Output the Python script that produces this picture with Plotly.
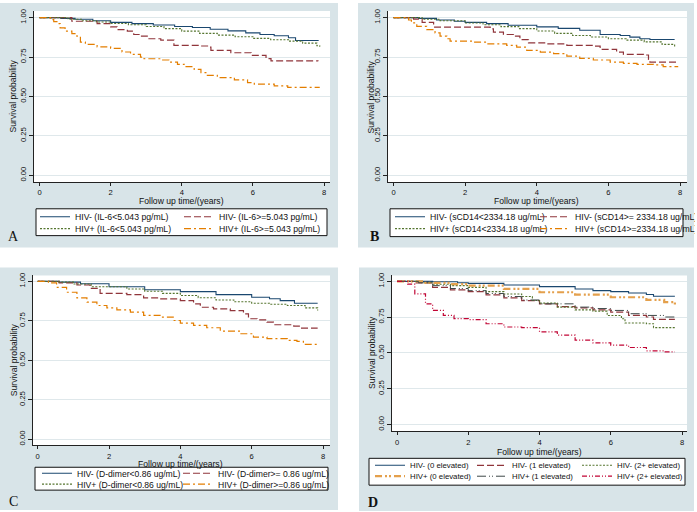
import plotly.graph_objects as go

W, H = 697, 512
FONT = "Liberation Sans, Arial, sans-serif"
SERIF = "Liberation Serif, Times New Roman, serif"

# ---------------- data (time in years, survival probability) ----------------
XTICKS = [0, 2, 4, 6, 8]
YTICKS = [0, 0.25, 0.5, 0.75, 1.0]
YTICKTEXT = ["0.00", "0.25", "0.50", "0.75", "1.00"]
XLABEL = "Follow up time/(years)"
YLABEL = "Survival probability"

# Panel A : IL-6
A_names = ["HIV- (IL-6&lt;5.043 pg/mL)", "HIV- (IL-6&gt;=5.043 pg/mL)",
           "HIV+ (IL-6&lt;5.043 pg/mL)", "HIV+ (IL-6&gt;=5.043 pg/mL)"]
A_neg_lo_t = [0, 0.6, 1.0, 1.5, 2.0, 2.6, 3.2, 3.8, 4.3, 4.8, 5.3, 5.8, 6.2, 6.6, 7.0, 7.2, 7.85]
A_neg_lo_s = [1.0, 0.995, 0.99, 0.98, 0.97, 0.962, 0.953, 0.944, 0.937, 0.926, 0.916, 0.903, 0.893, 0.885, 0.872, 0.855, 0.855]
A_neg_hi_t = [0, 0.91, 1.62, 2.0, 2.18, 2.47, 2.65, 2.84, 3.03, 3.41, 3.78, 4.54, 4.77, 4.82, 5.38, 5.95, 6.37, 6.51, 7.83]
A_neg_hi_s = [1.0, 0.977, 0.962, 0.941, 0.924, 0.914, 0.893, 0.882, 0.866, 0.857, 0.824, 0.82, 0.813, 0.792, 0.777, 0.761, 0.74, 0.725, 0.723]
A_pos_lo_t = [0, 0.8, 1.2, 1.6, 2.0, 2.5, 3.0, 3.5, 4.0, 4.5, 5.0, 5.5, 6.0, 6.5, 7.0, 7.4, 7.8, 7.88]
A_pos_lo_s = [1.0, 0.99, 0.98, 0.972, 0.963, 0.955, 0.944, 0.93, 0.914, 0.9, 0.889, 0.879, 0.868, 0.86, 0.851, 0.838, 0.822, 0.815]
A_pos_hi_t = [0, 0.3, 0.4, 0.49, 0.58, 0.72, 0.91, 1.05, 1.15, 1.29, 1.62, 2.0, 2.32, 2.56, 2.84, 2.94, 3.41,
              3.64, 3.88, 4.07, 4.35, 4.54, 4.72, 5.0, 5.48, 5.85, 6.04, 6.6, 6.98, 7.88]
A_pos_hi_s = [1.0, 0.987, 0.975, 0.962, 0.935, 0.914, 0.899, 0.882, 0.845, 0.83, 0.815, 0.805, 0.782, 0.767, 0.75,
              0.739, 0.731, 0.718, 0.704, 0.689, 0.672, 0.651, 0.634, 0.62, 0.605, 0.588, 0.578, 0.567, 0.557, 0.557]

# Panel B : sCD14
B_names = ["HIV- (sCD14&lt;2334.18 ug/mL)", "HIV- (sCD14&gt;= 2334.18 ug/mL)",
           "HIV+ (sCD14&lt;2334.18 ug/mL)", "HIV+ (sCD14&gt;=2334.18 ug/mL)"]
B_neg_lo_t = [0, 0.7, 1.2, 1.7, 2.0, 2.6, 3.2, 4.0, 4.6, 5.2, 5.77, 6.33, 6.6, 6.88, 7.16, 7.85]
B_neg_lo_s = [1.0, 0.995, 0.985, 0.977, 0.97, 0.962, 0.952, 0.941, 0.932, 0.92, 0.893, 0.887, 0.876, 0.866, 0.861, 0.861]
B_neg_hi_t = [0, 0.56, 0.8, 1.12, 2.7, 2.79, 3.07, 3.35, 3.53, 3.77, 4.28, 4.84, 5.58, 5.77, 6.23, 6.42, 6.98, 7.12, 7.16, 7.9]
B_neg_hi_s = [1.0, 0.99, 0.97, 0.94, 0.929, 0.908, 0.893, 0.882, 0.861, 0.84, 0.834, 0.824, 0.819, 0.798, 0.781, 0.767, 0.763, 0.735, 0.718, 0.718]
B_pos_lo_t = [0, 0.8, 1.3, 2.0, 2.5, 3.0, 3.5, 4.0, 4.5, 5.0, 5.5, 6.0, 6.5, 7.0, 7.5, 7.85]
B_pos_lo_s = [1.0, 0.99, 0.98, 0.966, 0.955, 0.943, 0.93, 0.915, 0.9, 0.887, 0.877, 0.866, 0.857, 0.846, 0.83, 0.808]
B_pos_hi_t = [0, 0.42, 0.5, 0.65, 0.93, 1.16, 1.3, 1.49, 1.58, 2.23, 2.6, 3.16, 3.44, 3.72, 4.1, 4.47, 4.84,
              5.2, 5.58, 6.05, 6.42, 6.8, 7.26, 7.53, 7.95]
B_pos_hi_s = [1.0, 0.985, 0.966, 0.945, 0.924, 0.903, 0.882, 0.866, 0.851, 0.845, 0.834, 0.824, 0.813, 0.792,
              0.781, 0.771, 0.756, 0.742, 0.731, 0.718, 0.71, 0.704, 0.7, 0.689, 0.689]

# Panel C : D-dimer
C_names = ["HIV- (D-dimer&lt;0.86 ug/mL)", "HIV- (D-dimer&gt;= 0.86 ug/mL)",
           "HIV+ (D-dimer&lt;0.86 ug/mL)", "HIV+ (D-dimer&gt;=0.86 ug/mL)"]
C_neg_lo_t = [0, 0.6, 1.2, 2.0, 3.0, 4.0, 5.0, 6.0, 6.5, 6.8, 7.2, 7.85]
C_neg_lo_s = [1.0, 0.995, 0.985, 0.966, 0.947, 0.935, 0.916, 0.899, 0.89, 0.878, 0.861, 0.861]
C_neg_hi_t = [0, 0.6, 1.1, 1.47, 1.75, 2.5, 2.97, 3.43, 4.0, 4.37, 4.56, 4.93, 5.4, 5.77, 5.91, 6.15, 6.43, 6.61, 7.18, 7.36, 7.85]
C_neg_hi_s = [1.0, 0.99, 0.977, 0.956, 0.924, 0.916, 0.895, 0.889, 0.878, 0.857, 0.836, 0.826, 0.815, 0.794, 0.763, 0.756, 0.742, 0.725, 0.716, 0.704, 0.704]
C_pos_lo_t = [0, 0.6, 1.0, 1.5, 2.5, 3.0, 3.5, 4.0, 4.5, 5.0, 5.5, 6.0, 6.5, 7.0, 7.5, 7.85]
C_pos_lo_s = [1.0, 0.995, 0.983, 0.966, 0.952, 0.937, 0.924, 0.91, 0.896, 0.882, 0.871, 0.861, 0.855, 0.847, 0.832, 0.815]
C_pos_hi_t = [0, 0.3, 0.53, 0.81, 1.1, 1.38, 1.66, 1.94, 2.22, 2.6, 2.97, 3.43, 3.8, 4.0, 4.37, 4.74, 5.12,
              5.68, 6.05, 6.43, 7.0, 7.27, 7.45, 7.85]
C_pos_hi_s = [1.0, 0.99, 0.962, 0.931, 0.895, 0.868, 0.847, 0.832, 0.819, 0.805, 0.784, 0.773, 0.752, 0.735,
              0.721, 0.706, 0.685, 0.668, 0.647, 0.637, 0.626, 0.62, 0.601, 0.601]

# Panel D : number of elevated biomarkers
D_names = ["HIV- (0 elevated)", "HIV- (1 elevated)", "HIV- (2+ elevated)",
           "HIV+ (0 elevated)", "HIV+ (1 elevated)", "HIV+ (2+ elevated)"]
D_neg0_t = [0, 1.0, 1.7, 2.0, 3.0, 4.0, 5.0, 5.5, 6.0, 6.5, 7.0, 7.2, 7.8]
D_neg0_s = [1.0, 0.997, 0.99, 0.986, 0.975, 0.963, 0.947, 0.935, 0.928, 0.919, 0.908, 0.896, 0.896]
D_neg1_t = [0, 0.5, 1.0, 1.5, 2.0, 2.5, 3.0, 3.5, 4.0, 4.5, 5.0, 5.5, 6.0, 6.5, 7.0, 7.2, 7.8]
D_neg1_s = [1.0, 0.99, 0.958, 0.94, 0.928, 0.905, 0.885, 0.866, 0.843, 0.824, 0.815, 0.801, 0.785, 0.762, 0.751, 0.734, 0.734]
D_neg2_t = [0, 0.7, 1.0, 1.5, 2.0, 2.5, 3.0, 3.5, 3.8, 4.0, 4.5, 5.0, 5.5, 5.9, 6.3, 6.4, 7.0, 7.2, 7.8]
D_neg2_s = [1.0, 0.99, 0.98, 0.97, 0.958, 0.928, 0.912, 0.894, 0.866, 0.848, 0.82, 0.801, 0.792, 0.762, 0.739, 0.709, 0.704, 0.677, 0.677]
D_pos0_t = [0, 0.8, 1.5, 2.0, 3.0, 4.0, 5.0, 6.0, 7.0, 7.5, 7.8]
D_pos0_s = [1.0, 0.99, 0.98, 0.97, 0.947, 0.924, 0.908, 0.889, 0.871, 0.855, 0.838]
D_pos1_t = [0, 0.6, 1.0, 1.5, 2.0, 2.5, 3.0, 3.5, 4.0, 5.0, 5.5, 6.0, 6.5, 7.0, 7.5, 7.8]
D_pos1_s = [1.0, 0.99, 0.97, 0.95, 0.935, 0.915, 0.894, 0.87, 0.843, 0.82, 0.81, 0.797, 0.774, 0.762, 0.751, 0.745]
D_pos2_t = [0, 0.3, 0.5, 0.8, 1.0, 1.3, 1.6, 2.0, 2.5, 3.0, 3.5, 4.0, 4.5, 5.0, 5.5, 6.0, 6.5, 7.0, 7.5, 7.8]
D_pos2_s = [1.0, 0.98, 0.912, 0.843, 0.797, 0.762, 0.739, 0.732, 0.704, 0.681, 0.677, 0.647, 0.624, 0.589,
            0.57, 0.554, 0.538, 0.515, 0.508, 0.508]

# ---------------- styles ----------------
NAVY, MAROON, GREEN, ORANGE = "#1a476f", "#90353b", "#55752f", "#e37e00"
SAND, SLATE, CRAN = "#e4a04c", "#3d4848", "#c10534"
BG = "#d8e4e8"
GRID = "#dfe8eb"

S_SOLID = dict(color=NAVY, width=1.1, dash="solid")
S_DOT = dict(color=GREEN, width=1.1, dash="2px,1.5px")
S_DASH = dict(color=MAROON, width=1.2, dash="7px,3px")
S_DASHDOT = dict(color=ORANGE, width=1.2, dash="7px,3px,2px,3px")
S_SAND = dict(color=SAND, width=2.2, dash="7px,3px,2px,2px,2px,3px")
S_SLATE = dict(color=SLATE, width=1.0, dash="9px,3px,1px,2px,1px,3px")
S_CRAN = dict(color=CRAN, width=1.2, dash="5px,2px,1px,2px,1px,2px")

# panel geometry in pixels
panels = [
    dict(key="A", sfx="", dom_x=(34, 330), dom_y=(8, 180), x0=39.5, x8=324, y1=14.7, y0=173.3,
         bg=(0, 0, 338, 246), letter=(14, 235, False), xlab_y=199, ylab_x=13,
         legbox=(36, 207, 327, 234), rows=[215, 227], leg_x=35, colw=[99, 110], fs=8.7),
    dict(key="B", sfx="2", dom_x=(388, 687), dom_y=(8, 180), x0=393.5, x8=680, y1=14.7, y0=173.3,
         bg=(358, 0, 694, 246), letter=(374, 235, True), xlab_y=199, ylab_x=371,
         legbox=(390, 207, 683, 235), rows=[215, 227], leg_x=390, colw=[100, 115], fs=8.7),
    dict(key="C", sfx="3", dom_x=(33, 330), dom_y=(274, 445), x0=37.7, x8=323, y1=280, y0=438.7,
         bg=(0, 266, 338, 510), letter=(14, 501, False), xlab_y=463.5, ylab_x=14,
         legbox=(35, 467, 328, 490), rows=[473, 484], leg_x=37, colw=[96, 110], fs=8.6),
    dict(key="D", sfx="4", dom_x=(392, 687), dom_y=(274, 431), x0=397, x8=682, y1=280, y0=424,
         bg=(359, 266, 694, 511), letter=(373, 502, True), xlab_y=451.5, ylab_x=372,
         legbox=(369, 458, 685, 485), rows=[465, 476], leg_x=370, colw=[57, 60, 65], fs=7.8),
]

series = {
    "A": [[(A_neg_lo_t, A_neg_lo_s, A_names[0], S_SOLID), (A_neg_hi_t, A_neg_hi_s, A_names[1], S_DASH)],
          [(A_pos_lo_t, A_pos_lo_s, A_names[2], S_DOT), (A_pos_hi_t, A_pos_hi_s, A_names[3], S_DASHDOT)]],
    "B": [[(B_neg_lo_t, B_neg_lo_s, B_names[0], S_SOLID), (B_neg_hi_t, B_neg_hi_s, B_names[1], S_DASH)],
          [(B_pos_lo_t, B_pos_lo_s, B_names[2], S_DOT), (B_pos_hi_t, B_pos_hi_s, B_names[3], S_DASHDOT)]],
    "C": [[(C_neg_lo_t, C_neg_lo_s, C_names[0], S_SOLID), (C_neg_hi_t, C_neg_hi_s, C_names[1], S_DASH)],
          [(C_pos_lo_t, C_pos_lo_s, C_names[2], S_DOT), (C_pos_hi_t, C_pos_hi_s, C_names[3], S_DASHDOT)]],
    "D": [[(D_neg0_t, D_neg0_s, D_names[0], S_SOLID), (D_neg1_t, D_neg1_s, D_names[1], S_DASH),
           (D_neg2_t, D_neg2_s, D_names[2], S_DOT)],
          [(D_pos0_t, D_pos0_s, D_names[3], S_SAND), (D_pos1_t, D_pos1_s, D_names[4], S_SLATE),
           (D_pos2_t, D_pos2_s, D_names[5], S_CRAN)]],
}


def fx(p):
    return p / W


def fy(p):
    return 1 - p / H


fig = go.Figure()
shapes, annotations, layout = [], [], {}
leg_index = 0

for p in panels:
    sfx = p["sfx"]
    kx = (p["x8"] - p["x0"]) / 8.0
    ky = p["y0"] - p["y1"]
    xr = [(p["dom_x"][0] - p["x0"]) / kx, (p["dom_x"][1] - p["x0"]) / kx]
    yr = [-(p["dom_y"][1] - p["y0"]) / ky, 1 + (p["y1"] - p["dom_y"][0]) / ky]
    tickfont = dict(family=FONT, size=7.6, color="#111111")
    layout["xaxis" + sfx] = dict(
        domain=[fx(p["dom_x"][0]), fx(p["dom_x"][1])], range=xr, anchor="y" + sfx,
        tickvals=XTICKS, ticks="outside", ticklen=3, tickwidth=1, tickcolor="#222222",
        showline=True, linecolor="#222222", linewidth=1, showgrid=False, zeroline=False,
        tickfont=tickfont, fixedrange=True)
    layout["yaxis" + sfx] = dict(
        domain=[fy(p["dom_y"][1]), fy(p["dom_y"][0])], range=yr, anchor="x" + sfx,
        tickvals=YTICKS, ticktext=YTICKTEXT, tickangle=-90, ticks="outside", ticklen=4,
        tickwidth=1, tickcolor="#222222", showline=True, linecolor="#222222", linewidth=1,
        showgrid=True, gridcolor=GRID, gridwidth=1, zeroline=False, tickfont=tickfont,
        fixedrange=True)

    # graph region + plot region
    bx0, by0, bx1, by1 = p["bg"]
    shapes.append(dict(type="rect", xref="paper", yref="paper", x0=fx(bx0), x1=fx(bx1),
                       y0=fy(by1), y1=fy(by0), fillcolor=BG, line=dict(width=0), layer="below"))
    shapes.append(dict(type="rect", xref="paper", yref="paper", x0=fx(p["dom_x"][0]), x1=fx(p["dom_x"][1]),
                       y0=fy(p["dom_y"][1]), y1=fy(p["dom_y"][0]), fillcolor="white",
                       line=dict(width=0), layer="below"))
    # legend box
    lx0, ly0, lx1, ly1 = p["legbox"]
    shapes.append(dict(type="rect", xref="paper", yref="paper", x0=fx(lx0), x1=fx(lx1),
                       y0=fy(ly1), y1=fy(ly0), fillcolor="white",
                       line=dict(width=1, color="#111111"), layer="below"))

    # axis titles
    xc = (p["x0"] + p["x8"]) / 2
    yc = (p["y0"] + p["y1"]) / 2
    annotations.append(dict(text=XLABEL, xref="paper", yref="paper", x=fx(xc), y=fy(p["xlab_y"]),
                            xanchor="center", yanchor="middle", showarrow=False,
                            font=dict(family=FONT, size=8.6, color="#111111")))
    annotations.append(dict(text=YLABEL, xref="paper", yref="paper", x=fx(p["ylab_x"]), y=fy(yc),
                            xanchor="center", yanchor="middle", showarrow=False, textangle=-90,
                            font=dict(family=FONT, size=8.6, color="#111111")))
    lx, ly, bold = p["letter"]
    annotations.append(dict(text=("<b>%s</b>" % p["key"]) if bold else p["key"], xref="paper", yref="paper",
                            x=fx(lx), y=fy(ly), xanchor="center", yanchor="middle", showarrow=False,
                            font=dict(family=SERIF, size=14, color="#111111")))

    # curves, one legend per legend row
    for r, row in enumerate(series[p["key"]]):
        leg_index += 1
        lname = "legend" if leg_index == 1 else "legend%d" % leg_index
        layout[lname] = dict(orientation="h", x=fx(p["leg_x"]), xanchor="left", y=fy(p["rows"][r]),
                             yanchor="middle", xref="paper", yref="paper", bgcolor="rgba(0,0,0,0)",
                             borderwidth=0, itemwidth=30, traceorder="normal",
                             font=dict(family=FONT, size=p["fs"], color="#111111"))
        for c, (t, s, name, st) in enumerate(row):
            fig.add_trace(go.Scatter(
                x=t, y=s, mode="lines", name=name, line=dict(shape="hv", **st),
                xaxis="x" + sfx, yaxis="y" + sfx, legend=lname, legendwidth=p["colw"][c],
                hoverinfo="skip"))

fig.update_layout(
    width=W, height=H, margin=dict(l=0, r=0, t=0, b=0), autosize=False,
    paper_bgcolor="white", plot_bgcolor="white", showlegend=True,
    shapes=shapes, annotations=annotations, **layout)

fig.write_html("out.html", config={"displayModeBar": False},
               post_script="document.body.style.margin='0px';document.body.style.padding='0px';"
                           "document.documentElement.style.overflow='hidden';")
